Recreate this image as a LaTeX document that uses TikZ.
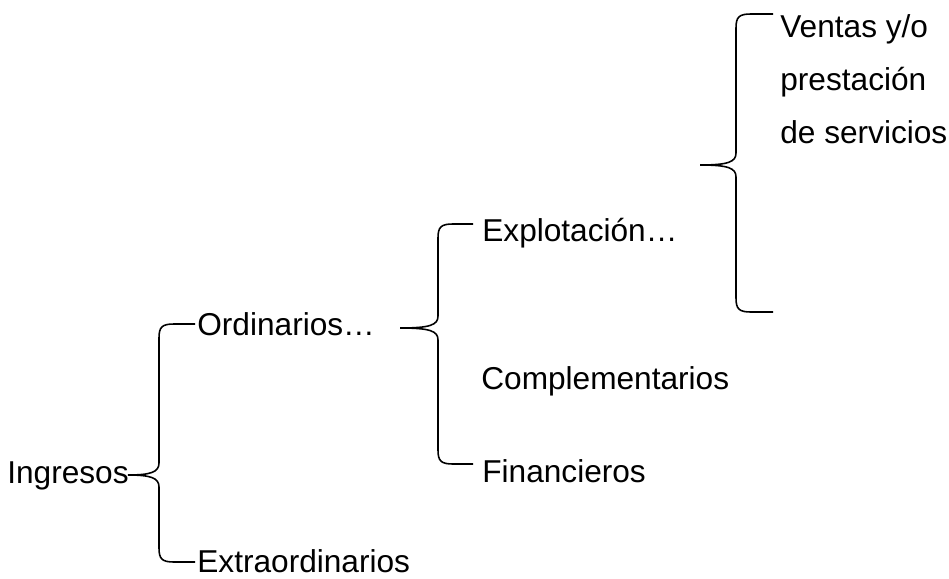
\documentclass[tikz,border=0pt]{standalone}
\usepackage{fontspec}
\setmainfont{Liberation Sans}
\usepackage{tikz}

% curly brace: x of stem, y of tip, x of tip, y top, y bottom, x of ends
\newcommand{\curlybrace}[6]{%
\draw[brace line] (#6,#4) -- ({#1+15},#4) .. controls ({#1+3},#4) and (#1,{#4+3}) .. (#1,{#4+14})
  -- (#1,{#2-12}) .. controls (#1,{#2-3}) and ({#1-8},#2) .. (#3,#2)
  .. controls ({#1-8},#2) and (#1,{#2+3}) .. (#1,{#2+12})
  -- (#1,{#5-14}) .. controls (#1,{#5-3}) and ({#1+3},#5) .. ({#1+15},#5) -- (#6,#5);}

\begin{document}
\begin{tikzpicture}[x=0.02cm, y=-0.02cm,
  item/.style={anchor=base west, inner sep=0pt, font=\fontsize{18}{22}\selectfont},
  brace line/.style={black, line width=0.9pt}]
\useasboundingbox (0,0) rectangle (949,578);

% first level
\node[item] (ingresos) at (7,483) {Ingresos};
\node[item] (ordinarios) at (197,335) {Ordinarios…};
\node[item] (extraordinarios) at (197,572) {Extraordinarios};
\curlybrace{159}{475}{128}{324}{562}{195}

% second level
\node[item] (explotacion) at (482,241) {Explotación…};
\node[item] (complementarios) at (481,389) {Complementarios};
\node[item] (financieros) at (482,482) {Financieros};
\curlybrace{438}{328}{400}{224}{464}{473}

% third level
\node[item] (ventas) at (780,37) {Ventas y/o};
\node[item] (prestacion) at (780,90) {prestación};
\node[item] (servicios) at (780,143) {de servicios};
\curlybrace{736}{165}{700}{14}{312}{773}

\end{tikzpicture}
\end{document}
